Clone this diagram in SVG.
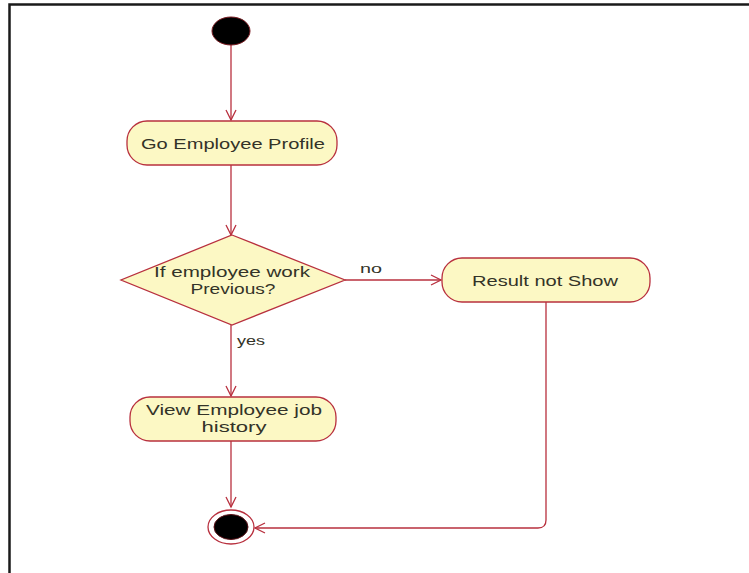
<svg xmlns="http://www.w3.org/2000/svg" width="749" height="573" viewBox="0 0 749 573">
  <style>
    .node { fill: #fcf8c4; stroke: #b8303e; stroke-width: 1.3; }
    .lbl { font-family: "Liberation Sans", Arial, sans-serif; font-size: 15px; fill: #333328; text-anchor: middle; }
    .small { font-family: "Liberation Sans", Arial, sans-serif; font-size: 13px; fill: #333328; }
    .edge { fill: none; stroke: #b8303e; stroke-width: 1.3; }
  </style>
  <defs>
    <marker id="open-arrow" markerWidth="14" markerHeight="14" refX="11" refY="6" orient="auto" markerUnits="userSpaceOnUse">
      <path d="M1,1 L11,6 L1,11" fill="none" stroke="#b8303e" stroke-width="1.3"/>
    </marker>
  </defs>

  <rect width="749" height="573" fill="#ffffff"/>
  <!-- page frame -->
  <path d="M9.5,573 L9.5,4.5 L749,4.5" fill="none" stroke="#1a1a1a" stroke-width="2.5"/>

  <g id="connectors">
    <path class="edge" d="M231,45 L231,120" marker-end="url(#open-arrow)"/>
    <path class="edge" d="M231,165 L231,235" marker-end="url(#open-arrow)"/>
    <path class="edge" d="M345,280 L441,280" marker-end="url(#open-arrow)"/>
    <path class="edge" d="M231,325 L231,396" marker-end="url(#open-arrow)"/>
    <path class="edge" d="M231,441 L231,507" marker-end="url(#open-arrow)"/>
    <path class="edge" d="M546,302 L546,520 Q546,528 538,528 L255,528" marker-end="url(#open-arrow)"/>
    <text class="small" x="360" y="273" textLength="22" lengthAdjust="spacingAndGlyphs">no</text>
    <text class="small" x="237" y="345" textLength="28" lengthAdjust="spacingAndGlyphs">yes</text>
  </g>

  <g id="start">
    <ellipse cx="231" cy="31" rx="19" ry="14" fill="#000000" stroke="#7a1a20" stroke-width="1"/>
  </g>

  <g id="go-employee-profile">
    <rect class="node" x="127" y="121" width="210" height="44" rx="20" ry="20"/>
    <text class="lbl" x="233" y="149" textLength="184" lengthAdjust="spacingAndGlyphs">Go Employee Profile</text>
  </g>

  <g id="decision">
    <polygon class="node" points="232,235 345,280 232,325 121,280"/>
    <text class="lbl" x="232" y="277" textLength="156" lengthAdjust="spacingAndGlyphs">If employee work</text>
    <text class="lbl" x="233" y="294" textLength="85" lengthAdjust="spacingAndGlyphs">Previous?</text>
  </g>

  <g id="result-not-show">
    <rect class="node" x="442" y="258" width="208" height="44" rx="20" ry="20"/>
    <text class="lbl" x="545" y="286" textLength="146" lengthAdjust="spacingAndGlyphs">Result not Show</text>
  </g>

  <g id="view-job-history">
    <rect class="node" x="130" y="397" width="206" height="44" rx="20" ry="20"/>
    <text class="lbl" x="234" y="415" textLength="176" lengthAdjust="spacingAndGlyphs">View Employee job</text>
    <text class="lbl" x="234" y="432" textLength="65" lengthAdjust="spacingAndGlyphs">history</text>
  </g>

  <g id="end">
    <ellipse cx="231" cy="527" rx="23" ry="17" fill="#ffffff" stroke="#b8303e" stroke-width="1.3"/>
    <ellipse cx="231" cy="527" rx="17" ry="12.5" fill="#000000" stroke="#5a1016" stroke-width="1"/>
  </g>
</svg>
